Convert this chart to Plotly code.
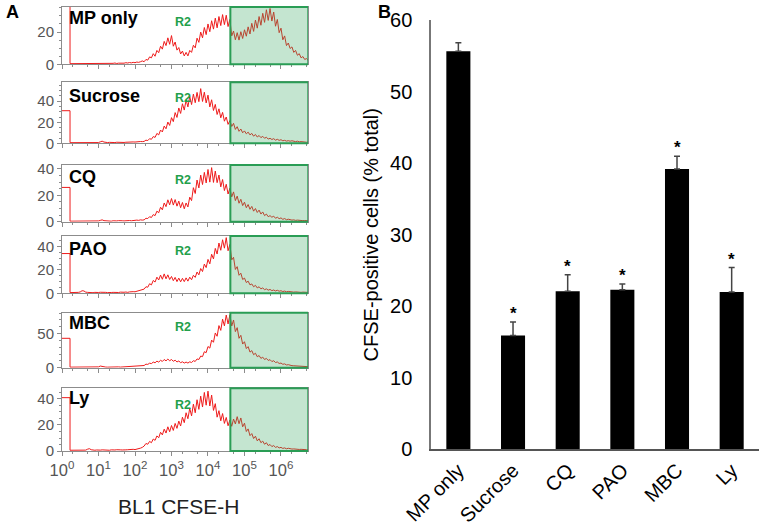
import numpy as np
import plotly.graph_objects as go

# ---------------- DATA ----------------
# Panel A: flow cytometry histograms (BL1 CFSE-H), bins every 0.05 decade from 10^0.25 to 10^6.8
bin_log = np.round(np.arange(0.25, 6.8001, 0.05), 2)
bin_fluor = 10 ** bin_log
first_bin_edge = 10 ** 0.22          # upper edge of the pile-up bin at the left of the axis
gate_r2 = [4.1e4, 5.6e6]             # R2 gate (CFSE-positive)
r2_label_x = 2100

samples = ["MP only", "Sucrose", "CQ", "PAO", "MBC", "Ly"]
first_bin_counts = [60, 31, 26, 34, 43, 41]

mp_only_counts = [
    0.4,0.3,0.5,0.3,0.4,0.6,0.3,0.5,0.4,0.3,0.5,0.7,0.4,0.3,0.5,0.4,0.6,0.5,0.4,0.6,
    0.5,0.7,0.4,0.6,0.8,0.5,0.7,0.6,0.9,0.7,1.0,0.8,1.1,0.9,1.2,1.0,1.4,1.2,1.6,2.1,
    1.6,3.0,2.6,4.6,4.0,6.6,5.0,8.6,7.2,11.2,9.4,14.2,11.6,16.4,12.4,17.8,11.2,13.8,8.8,10.4,
    6.4,8.2,5.2,7.4,5.2,8.6,7.4,11.8,10.2,16.2,13.6,20.0,16.4,22.8,18.4,25.0,20.2,27.0,21.8,28.6,
    22.6,29.6,24.0,30.8,24.6,30.4,23.4,27.8,17.6,20.6,15.2,19.6,15.0,20.2,16.0,21.4,17.4,23.2,18.8,25.4,
    20.4,27.4,22.4,29.6,24.2,31.6,26.0,33.8,27.2,34.6,26.8,32.4,23.6,27.8,19.6,22.4,15.2,17.6,11.6,13.2,
    9.8,10.8,7.4,8.6,5.6,6.6,4.0,4.8,3.0,3.6,2.2,2.8]
sucrose_counts = [
    0.6,0.5,0.7,0.5,0.6,0.8,0.5,0.7,0.6,0.5,0.7,0.6,0.8,0.6,0.9,0.7,1.4,2.0,1.2,0.8,
    0.7,0.9,0.6,0.8,0.7,1.0,0.8,0.9,1.1,0.8,1.0,1.2,0.9,1.1,1.3,1.2,1.5,1.3,1.7,1.6,
    1.8,3.0,2.6,4.4,3.8,6.4,5.6,9.4,8.0,12.6,10.8,16.4,13.8,20.2,17.0,24.4,20.6,29.2,24.6,33.6,
    28.4,37.6,31.6,41.2,34.6,44.6,36.8,46.8,38.6,48.4,39.6,52.0,39.8,48.6,38.4,45.8,34.6,41.4,31.2,37.0,
    27.4,32.8,24.2,29.4,21.0,25.0,18.0,21.6,16.0,19.0,13.2,15.8,11.4,13.6,10.0,11.8,9.0,10.6,8.0,9.4,
    6.8,8.4,6.0,7.4,5.4,6.6,4.8,5.8,4.0,4.8,3.6,4.4,3.0,3.8,2.8,3.4,2.4,2.8,2.1,2.5,
    2.0,2.4,1.8,1.6,2.0,1.4,1.6,1.2,1.4,1.0,1.2,0.9]
cq_counts = [
    0.4,0.3,0.5,0.4,0.3,0.5,0.4,0.3,0.5,0.4,0.6,0.4,0.5,0.7,0.5,0.6,1.0,1.4,0.8,0.6,
    0.5,0.6,0.4,0.7,0.5,0.6,0.8,0.5,0.7,0.6,0.8,0.6,0.9,0.7,1.0,0.8,1.2,1.0,1.4,1.2,
    1.4,2.6,2.4,3.8,3.2,5.4,4.6,8.0,6.8,11.0,9.0,14.2,11.4,16.6,12.8,17.6,12.6,16.8,11.8,15.6,
    10.6,14.6,9.8,14.2,11.2,18.6,16.0,25.8,21.4,31.6,25.6,35.4,28.2,37.4,29.4,39.6,30.0,41.0,29.8,38.4,
    29.6,35.4,26.4,32.0,23.6,28.4,21.0,25.4,18.8,22.6,16.0,19.4,14.0,17.0,12.2,14.8,10.6,13.0,9.4,11.6,
    8.0,10.0,7.0,8.8,5.8,7.4,4.6,5.8,3.8,4.6,3.4,4.2,2.6,3.4,2.3,2.9,1.8,2.4,1.5,1.9,
    1.4,1.2,1.4,1.0,1.2,0.9,1.0,0.8,0.9,0.7,0.8,0.6]
pao_counts = [
    0.6,0.5,0.7,0.6,0.8,1.2,2.2,2.0,1.0,0.8,0.6,0.7,0.5,0.8,0.6,0.7,0.9,1.0,0.7,0.8,
    0.6,0.9,0.7,0.8,0.6,0.9,0.7,1.0,0.8,0.9,1.1,0.8,1.2,1.0,1.4,1.3,1.8,2.2,2.8,3.4,
    3.6,5.6,5.2,8.2,7.2,11.0,9.6,13.8,11.4,15.6,12.0,16.6,12.4,15.8,11.8,14.4,10.8,13.6,10.0,13.0,
    9.8,12.8,10.0,13.2,10.4,13.8,11.6,15.4,13.6,18.2,15.8,21.2,18.6,25.0,22.0,29.0,25.2,33.4,29.4,38.4,
    33.6,43.0,36.8,45.8,38.6,47.6,36.4,41.8,28.6,30.8,20.4,22.8,15.4,17.2,11.8,13.0,9.2,10.4,7.2,8.0,
    5.6,6.8,4.6,5.6,3.8,4.6,3.1,3.8,2.7,3.3,2.3,2.8,2.0,2.6,1.8,2.2,1.5,1.9,1.3,1.6,
    1.2,1.4,1.0,1.2,0.9,1.1,0.8,1.0,0.9,0.8,0.9,0.7]
mbc_counts = [
    0.8,0.6,0.9,0.7,0.8,0.6,0.9,0.7,1.0,0.8,0.7,0.9,0.8,1.0,0.8,1.2,2.4,1.6,1.0,0.9,
    0.8,1.0,0.9,1.1,0.8,1.0,1.2,0.9,1.1,1.0,1.3,1.1,1.4,1.2,1.6,1.4,1.8,2.2,2.6,3.2,
    3.2,5.2,4.8,6.6,6.0,8.2,7.2,9.6,8.2,10.8,9.2,12.0,10.0,12.6,10.2,12.0,9.4,11.0,8.4,9.8,
    7.4,8.6,6.8,8.2,6.8,8.6,7.6,10.2,9.2,12.8,12.0,17.0,16.2,23.4,22.0,31.0,28.6,40.4,37.2,50.8,
    46.0,61.6,54.6,71.0,61.2,77.0,64.0,77.4,61.0,69.8,52.8,58.6,43.0,47.4,34.6,38.0,28.0,30.8,22.8,25.0,
    19.0,21.2,16.0,17.8,13.6,15.4,12.0,13.6,10.6,11.8,9.0,10.2,7.6,8.4,6.2,6.8,5.0,5.6,4.0,4.4,
    3.4,3.0,2.8,2.6,2.4,2.2,2.0,1.8,1.6,1.7,1.4,1.3]
ly_counts = [
    0.6,0.5,0.7,0.6,0.5,0.7,0.6,0.8,0.7,1.4,1.8,1.0,0.7,0.6,0.8,0.6,0.7,0.9,0.7,0.6,
    0.8,0.6,0.9,0.7,0.8,1.0,0.7,0.9,0.8,1.1,0.9,1.0,1.2,1.0,1.3,1.1,1.4,1.6,2.2,2.8,
    3.8,5.8,5.2,7.4,6.4,9.2,8.2,11.6,10.2,14.4,12.4,16.8,13.8,18.6,14.8,19.6,15.8,21.2,17.4,23.0,
    19.2,26.0,21.8,29.4,24.8,32.8,27.0,36.0,29.4,39.4,32.0,42.2,33.8,45.0,35.2,46.0,34.6,43.0,31.2,36.4,
    26.0,31.0,23.2,28.8,21.2,25.8,19.4,23.8,19.0,24.6,20.8,26.4,21.0,25.4,18.6,21.4,15.0,17.0,11.8,13.4,
    9.6,11.4,7.8,9.4,6.4,7.6,5.2,6.4,4.2,5.0,3.4,4.2,2.8,3.4,2.4,2.8,2.0,2.4,1.7,2.1,
    1.6,1.5,1.6,1.3,1.4,1.2,1.3,1.1,1.2,1.0,1.1,0.9]
hist_counts = [mp_only_counts, sucrose_counts, cq_counts, pao_counts, mbc_counts, ly_counts]

hist_y_max = [35.5, 58, 43, 49, 80.5, 48.2]
hist_y_ticks = [[0, 20], [0, 20, 40], [0, 20, 40], [0, 20, 40], [0, 50], [0, 20, 40]]
x_tick_vals = [1, 10, 100, 1000, 1e4, 1e5, 1e6]
x_tick_text = ["10<sup>0</sup>", "10<sup>1</sup>", "10<sup>2</sup>", "10<sup>3</sup>",
               "10<sup>4</sup>", "10<sup>5</sup>", "10<sup>6</sup>"]

# Panel B: CFSE-positive cells (% total)
treatments = ["MP only", "Sucrose", "CQ", "PAO", "MBC", "Ly"]
cfse_pos_pct = [55.7, 15.9, 22.1, 22.3, 39.2, 22.0]
cfse_pos_sd = [1.2, 1.9, 2.3, 0.8, 1.8, 3.4]
significant = [False, True, True, True, True, True]

# ---------------- STYLE / LAYOUT ----------------
FONT = "Arial, 'Liberation Sans', sans-serif"
RED = "#ee1b1b"
GRAY = "#8c8c8c"
A_xdom = [62 / 759, 308 / 759]
A_ydoms = [(0.8782, 0.9867), (0.7286, 0.8441), (0.5801, 0.6875),
           (0.4445, 0.5530), (0.3036, 0.4078), (0.1458, 0.2646)]
label_y = [0.80, 0.78, 0.79, 0.77, 0.82, 0.85]

fig = go.Figure()
layout = dict(width=759, height=528, autosize=False,
              margin=dict(l=0, r=0, t=0, b=0, autoexpand=False),
              paper_bgcolor="white", plot_bgcolor="white",
              showlegend=False, font=dict(family=FONT))
shapes, annotations = [], []

for i in range(6):
    n = i + 1
    sfx = "" if n == 1 else str(n)
    xa, ya = f"x{sfx}", f"y{sfx}"
    cnt = hist_counts[i]
    xs = [1.0, first_bin_edge, first_bin_edge] + list(bin_fluor)
    ys = [first_bin_counts[i], first_bin_counts[i], cnt[0]] + list(cnt)
    fig.add_trace(go.Scatter(x=xs, y=ys, mode="lines", xaxis=xa, yaxis=ya,
                             line=dict(color=RED, width=1), hoverinfo="skip"))
    layout[f"xaxis{sfx}"] = dict(
        domain=A_xdom, anchor=ya, type="log", automargin=False,
        range=[0, 6.74],
        tickvals=x_tick_vals, ticktext=x_tick_text,
        showticklabels=(i == 5), ticks="outside", ticklen=4, tickcolor=GRAY,
        tickfont=dict(size=16.5, color="#555555"),
        minor=dict(ticks="outside", ticklen=2, tickcolor=GRAY),
        showline=True, linecolor=GRAY, linewidth=1, mirror=True,
        showgrid=False, zeroline=False)
    layout[f"yaxis{sfx}"] = dict(
        domain=list(A_ydoms[i]), anchor=xa, range=[0, hist_y_max[i]], automargin=False,
        tickvals=hist_y_ticks[i], ticks="outside", ticklen=4, tickcolor=GRAY,
        tickfont=dict(size=15, color="#555555"),
        minor=dict(ticks="outside", ticklen=2, tickcolor=GRAY,
                   dtick=10 if i == 4 else 5),
        showline=True, linecolor=GRAY, linewidth=1, mirror=True,
        showgrid=False, zeroline=False)
    shapes.append(dict(type="rect", xref=xa, yref=f"{ya} domain",
                       x0=gate_r2[0], x1=gate_r2[1], y0=0, y1=1,
                       fillcolor="rgba(60,170,100,0.30)",
                       line=dict(color="#2a9d55", width=2), layer="above"))
    annotations.append(dict(xref=f"{xa} domain", yref=f"{ya} domain", x=0.02, y=label_y[i],
                            xanchor="left", yanchor="middle", showarrow=False,
                            text=f"<b>{samples[i]}</b>", font=dict(size=18, color="black")))
    annotations.append(dict(xref=xa, yref=f"{ya} domain", x=np.log10(r2_label_x), y=0.74,
                            xanchor="center", yanchor="middle", showarrow=False,
                            text="<b>R2</b>", font=dict(size=12.5, color="#23a04b")))

annotations.append(dict(xref="paper", yref="paper", x=178 / 759, y=1 - 506 / 528,
                        xanchor="center", yanchor="middle", showarrow=False,
                        text="BL1 CFSE-H", font=dict(size=21, color="#222222")))

# Panel B bar chart
fig.add_trace(go.Bar(x=treatments, y=cfse_pos_pct, xaxis="x7", yaxis="y7",
                     marker=dict(color="black", line=dict(width=0)),
                     error_y=dict(type="data", array=cfse_pos_sd, symmetric=False,
                                  arrayminus=[0] * len(cfse_pos_sd),
                                  color="#444444", thickness=1.5, width=3),
                     hoverinfo="skip"))
layout["bargap"] = 0.56
layout["xaxis7"] = dict(domain=[0.5679, 1.0], anchor="y7", type="category", automargin=False,
                        tickangle=-45, tickfont=dict(size=20, color="black"),
                        showline=True, linecolor="#555555", linewidth=1.5,
                        ticks="", showgrid=False, zeroline=False)
layout["yaxis7"] = dict(domain=[0.1496, 0.9612], anchor="x7", range=[0, 60], automargin=False,
                        tickvals=[0, 10, 20, 30, 40, 50, 60],
                        tickfont=dict(size=20, color="black"),
                        ticks="outside", ticklen=13, tickcolor="rgba(0,0,0,0)",
                        showline=True, linecolor="#777777", linewidth=1.5,
                        showgrid=False, zeroline=False,
                        title=dict(text="CFSE-positive cells (% total)",
                                   font=dict(size=20, color="black"), standoff=6))
for t, v, e, s in zip(treatments, cfse_pos_pct, cfse_pos_sd, significant):
    if s:
        annotations.append(dict(xref="x7", yref="y7", x=t, y=v + e, xanchor="center",
                                yanchor="bottom", showarrow=False, yshift=-3,
                                text="<b>*</b>", font=dict(size=17, color="black")))

annotations.append(dict(xref="paper", yref="paper", x=0.005, y=1 - 12 / 528, xanchor="left",
                        yanchor="middle", showarrow=False, text="<b>A</b>",
                        font=dict(size=18, color="black")))
annotations.append(dict(xref="paper", yref="paper", x=376 / 759, y=1 - 12 / 528, xanchor="left",
                        yanchor="middle", showarrow=False, text="<b>B</b>",
                        font=dict(size=18, color="black")))

layout["shapes"] = shapes
layout["annotations"] = annotations
fig.update_layout(**layout)
fig.write_html("out.html", config={"displayModeBar": False},
               post_script="document.body.style.margin='0';document.body.style.padding='0';")
